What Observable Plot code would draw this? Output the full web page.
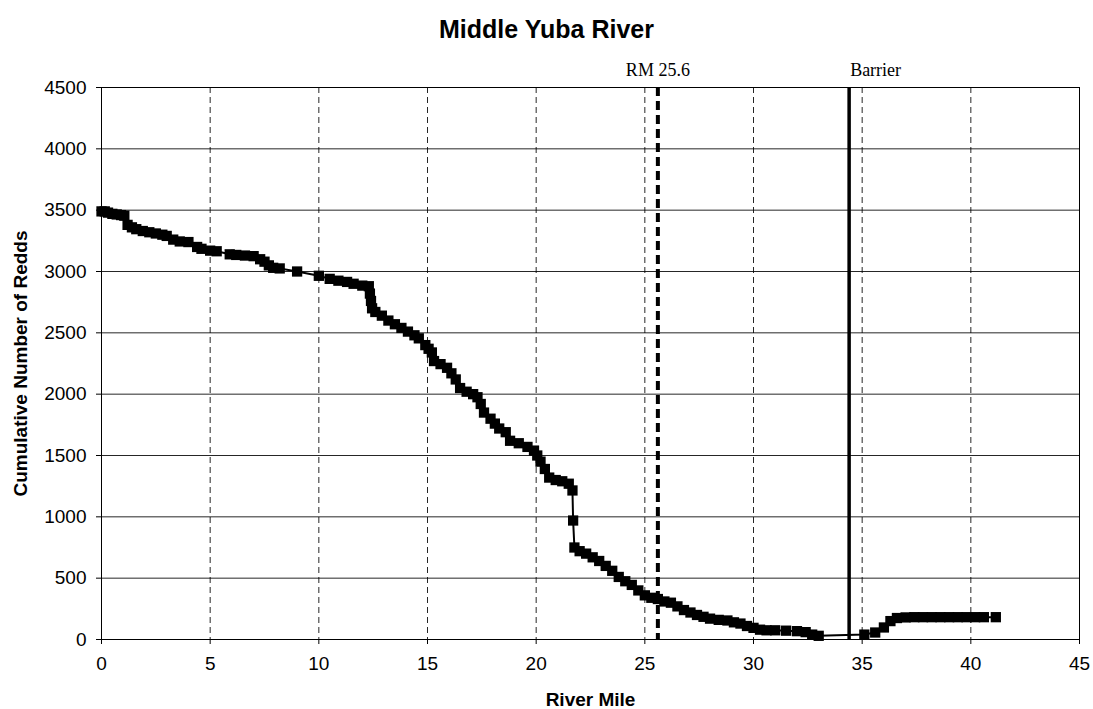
<!DOCTYPE html>
<html>
<head>
<meta charset="utf-8">
<script src="https://cdn.jsdelivr.net/npm/d3@7"></script>
<script src="https://cdn.jsdelivr.net/npm/@observablehq/plot@0.6"></script>
<style>
  html, body { margin: 0; padding: 0; background: #fff; }
  #title { height: 50px; line-height: 58px; text-align: center; font-family: "Liberation Sans", Arial, sans-serif; font-weight: bold; font-size: 25px; color: #000; }
</style>
</head>
<body>
<div id="title">Middle Yuba River</div>
<div id="chart"></div>
<script>
const riverMile = [0.0,0.15,0.3,0.5,0.7,0.9,1.05,1.2,1.4,1.6,1.9,2.2,2.5,2.8,3.0,3.3,3.6,4.0,4.4,4.6,5.0,5.3,5.9,6.2,6.6,7.0,7.3,7.5,7.7,7.9,8.2,9.0,10.0,10.5,10.9,11.3,11.6,12.0,12.3,12.35,12.4,12.45,12.6,12.9,13.2,13.5,13.8,14.1,14.4,14.6,14.9,15.05,15.2,15.3,15.6,15.9,16.1,16.3,16.5,16.8,17.1,17.3,17.45,17.6,17.9,18.1,18.3,18.6,18.8,19.2,19.6,19.9,20.05,20.2,20.4,20.6,20.9,21.2,21.5,21.67,21.7,21.76,22.0,22.3,22.6,22.9,23.2,23.5,23.8,24.1,24.4,24.7,25.0,25.3,25.6,25.9,26.2,26.5,26.8,27.1,27.4,27.7,28.0,28.4,28.8,29.1,29.4,29.7,30.0,30.3,30.6,31.0,31.5,32.0,32.4,32.7,33.0,35.1,35.6,36.0,36.3,36.6,37.0,37.4,37.8,38.2,38.6,39.0,39.4,39.8,40.2,40.6,41.15];
const redds = [3490,3490,3480,3470,3465,3460,3455,3380,3360,3345,3330,3320,3310,3300,3290,3260,3245,3240,3200,3185,3170,3165,3140,3135,3130,3125,3100,3080,3050,3030,3025,3000,2965,2940,2925,2915,2900,2885,2880,2820,2760,2700,2670,2640,2600,2570,2540,2510,2480,2455,2400,2370,2340,2270,2245,2215,2170,2120,2050,2020,2000,1975,1920,1850,1800,1760,1720,1690,1620,1600,1570,1540,1500,1450,1390,1320,1300,1290,1270,1215,970,750,720,700,670,640,600,560,510,475,445,400,360,340,330,310,300,270,240,220,200,185,170,160,155,140,130,110,95,80,75,75,72,68,60,40,30,40,57,98,150,175,180,182,182,182,182,182,182,182,182,182,182];
const xTicks = [0,5,10,15,20,25,30,35,40,45];
const yTicks = [0,500,1000,1500,2000,2500,3000,3500,4000,4500];
const xGridTicks = [5,10,15,20,25,30,35,40];
const rmMile = [25.6];
const rmLabel = ["RM 25.6"];
const barrierMile = [34.4];
const barrierLabel = ["Barrier"];
const xTitle = "River Mile";
const yTitle = "Cumulative Number of Redds";

const data = riverMile.map((m, i) => ({mile: m, redds: redds[i]}));

const chart = Plot.plot({
  width: 1093,
  height: 659,
  marginLeft: 101,
  marginRight: 14,
  marginTop: 37,
  marginBottom: 70,
  style: { fontFamily: "'Liberation Sans', Arial, sans-serif", fontSize: "19px", color: "#000", background: "#fff" },
  x: { domain: [0, 45] },
  y: { domain: [0, 4500] },
  marks: [
    Plot.gridY(yTicks.slice(1, -1), { stroke: "#000", strokeOpacity: 0.85, strokeWidth: 1 }),
    Plot.gridX(xGridTicks, { stroke: "#000", strokeOpacity: 0.85, strokeWidth: 1, strokeDasharray: "6,4" }),
    Plot.axisX({ ticks: xTicks, tickSize: 5, tickPadding: 12, label: null, fontSize: 19, tickFormat: d => String(d) }),
    Plot.axisY({ ticks: yTicks, tickSize: 5, tickPadding: 10, label: null, fontSize: 19, tickFormat: d => String(d) }),
    Plot.ruleX(rmMile, { stroke: "#000", strokeWidth: 4, strokeDasharray: "9,5" }),
    Plot.ruleX(barrierMile, { stroke: "#000", strokeWidth: 3.5 }),
    Plot.line(data, { x: "mile", y: "redds", stroke: "#000", strokeWidth: 2 }),
    Plot.dot(data, { x: "mile", y: "redds", symbol: "square", r: 5.8, fill: "#000", stroke: null }),
    Plot.text(rmLabel, { x: rmMile, frameAnchor: "top", lineAnchor: "bottom", dy: -12, text: d => d, fontFamily: "'Liberation Serif', 'Times New Roman', serif", fontSize: 18, textAnchor: "middle" }),
    Plot.text(barrierLabel, { x: barrierMile, frameAnchor: "top", lineAnchor: "bottom", dy: -12, dx: 1, text: d => d, fontFamily: "'Liberation Serif', 'Times New Roman', serif", fontSize: 18, textAnchor: "start" }),
    Plot.text([xTitle], { frameAnchor: "bottom", lineAnchor: "middle", textAnchor: "middle", dy: 60, text: d => d, fontWeight: "bold", fontSize: 19 }),
    Plot.text([yTitle], { frameAnchor: "left", lineAnchor: "middle", textAnchor: "middle", rotate: -90, dx: -81, text: d => d, fontWeight: "bold", fontSize: 19 }),
    Plot.frame({ stroke: "#000", strokeWidth: 1 })
  ]
});
document.getElementById("chart").appendChild(chart);
</script>
</body>
</html>
